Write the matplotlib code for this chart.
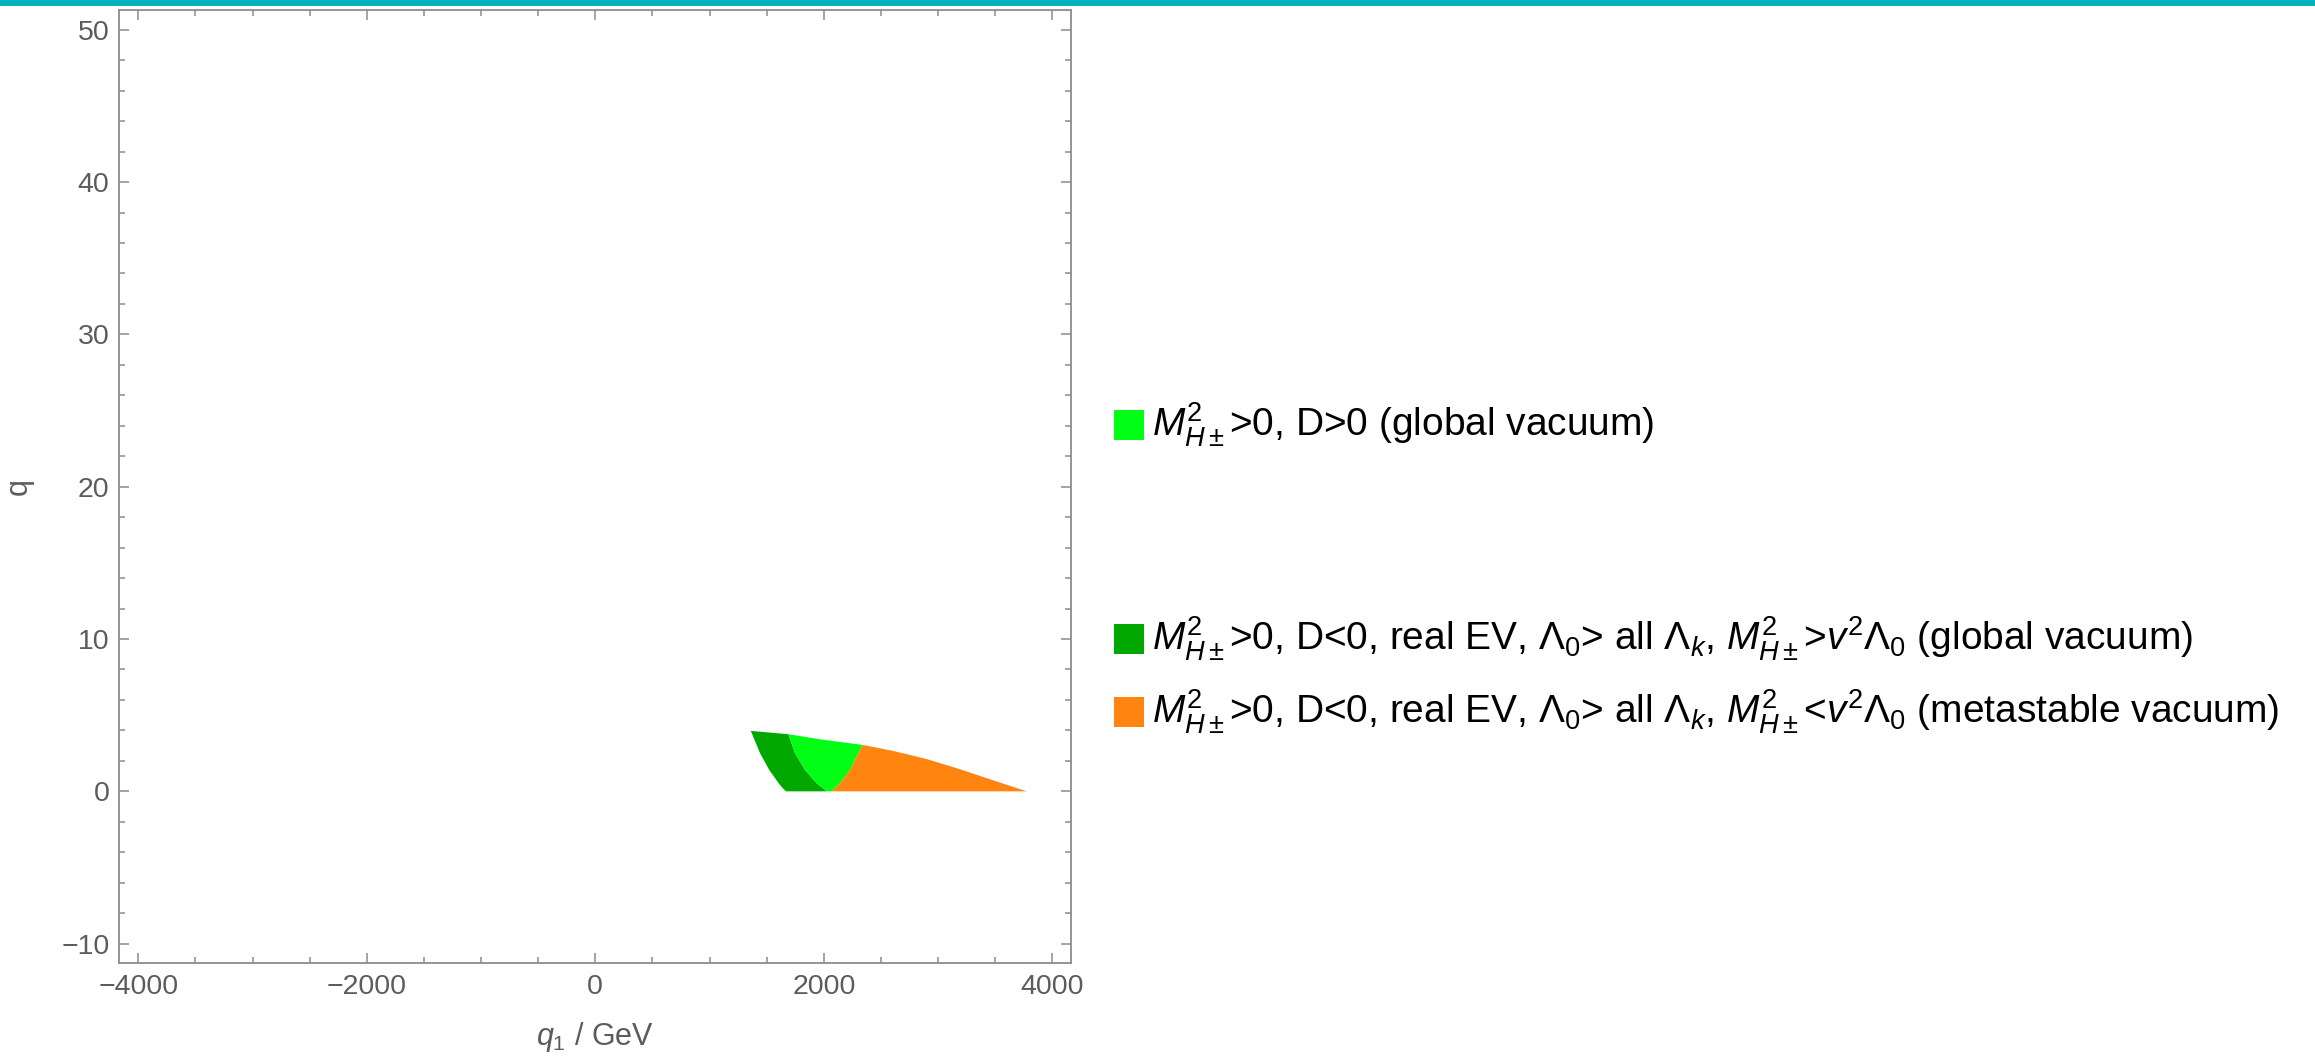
import numpy as np
import matplotlib
matplotlib.use("Agg")
import matplotlib.pyplot as plt
from matplotlib.patches import Rectangle
from matplotlib.ticker import MultipleLocator

plt.rcParams['font.family'] = ['Liberation Sans', 'DejaVu Sans']
plt.rcParams['mathtext.fontset'] = 'custom'
plt.rcParams['mathtext.rm'] = 'Liberation Sans'
plt.rcParams['mathtext.it'] = 'Liberation Sans:italic'
plt.rcParams['mathtext.bf'] = 'Liberation Sans:bold'

# region boundaries (q1 in GeV, q)
top_q1 = [1361, 1690, 2010, 2341, 2609, 2901, 3193, 3484, 3776]
top_q = [3.97, 3.75, 3.37, 3.05, 2.65, 2.12, 1.45, 0.72, 0.0]

left_q = [3.97, 2.5, 1.4, 0.53, 0.2, 0.0]
left_q1 = [1361, 1442, 1523, 1605, 1641, 1670]

dark_light_q = [3.75, 2.5, 1.4, 0.53, 0.0]
dark_light_q1 = [1690, 1748, 1836, 1938, 2026]

light_orange_q = [0.0, 0.53, 1.4, 2.5, 3.05]
light_orange_q1 = [2070, 2142, 2230, 2303, 2341]

colors = ['#00FF14', '#00A800', '#FF8410']
labels = [
    r'$M^2_{H\pm}$>0, D>0 (global vacuum)',
    r'$M^2_{H\pm}$>0, D<0, real EV, $\Lambda_0$> all $\Lambda_k$, $M^2_{H\pm}$>$v^2\Lambda_0$ (global vacuum)',
    r'$M^2_{H\pm}$>0, D<0, real EV, $\Lambda_0$> all $\Lambda_k$, $M^2_{H\pm}$<$v^2\Lambda_0$ (metastable vacuum)',
]
legend_y = [425, 639, 712]   # pixel rows of legend entries

W, H = 2315, 1057
fig = plt.figure(figsize=(W / 100, H / 100), dpi=100)
ax = fig.add_axes([119.3 / W, 1 - 963 / H, (1071.3 - 119.3) / W, (963 - 10) / H])

# dark green: left edge down, up the dark/light boundary, back along the top
dg_x = left_q1 + dark_light_q1[::-1]
dg_y = left_q + dark_light_q[::-1]
ax.fill(dg_x, dg_y, color=colors[1], lw=0)

# light green
lg_x = dark_light_q1 + light_orange_q1 + [top_q1[2]]
lg_y = dark_light_q + light_orange_q + [top_q[2]]
ax.fill(lg_x, lg_y, color=colors[0], lw=0)

# orange
or_x = light_orange_q1 + top_q1[4:]
or_y = light_orange_q + top_q[4:]
ax.fill(or_x, or_y, color=colors[2], lw=0)

ax.set_xlim(-4166, 4166)
ax.set_ylim(-11.27, 51.3)
ax.xaxis.set_major_locator(MultipleLocator(2000))
ax.xaxis.set_minor_locator(MultipleLocator(500))
ax.yaxis.set_major_locator(MultipleLocator(10))
ax.yaxis.set_minor_locator(MultipleLocator(2))

spine_col = '#8c8c8c'
for s in ax.spines.values():
    s.set_color(spine_col)
    s.set_linewidth(1.3)
ax.tick_params(which='both', direction='in', top=True, right=True,
               color=spine_col, width=1.1, labelsize=20.5, labelcolor='#5c5c5c')
ax.tick_params(which='major', length=7)
ax.tick_params(which='minor', length=4)
ax.tick_params(axis='y', pad=7)
ax.tick_params(axis='x', pad=8)

ax.set_xlabel(r'$q_1$ / GeV', fontsize=22, color='#5c5c5c', labelpad=14)
ax.set_ylabel('q', fontsize=22, color='#5c5c5c', labelpad=20)

# legend drawn by hand
sq = 30
for c, lab, yp in zip(colors, labels, legend_y):
    fig.add_artist(Rectangle((1114 / W, 1 - (yp + sq / 2) / H), sq / W, sq / H,
                             transform=fig.transFigure, color=c, lw=0))
    fig.text(1152 / W, 1 - yp / H, lab, fontsize=28, va='center', ha='left', color='black')

# teal strip along the top
fig.add_artist(Rectangle((0, 1 - 6 / H), 1, 6 / H, transform=fig.transFigure,
                         color='#00B3BC', lw=0))

fig.savefig('out.png', dpi=100)
